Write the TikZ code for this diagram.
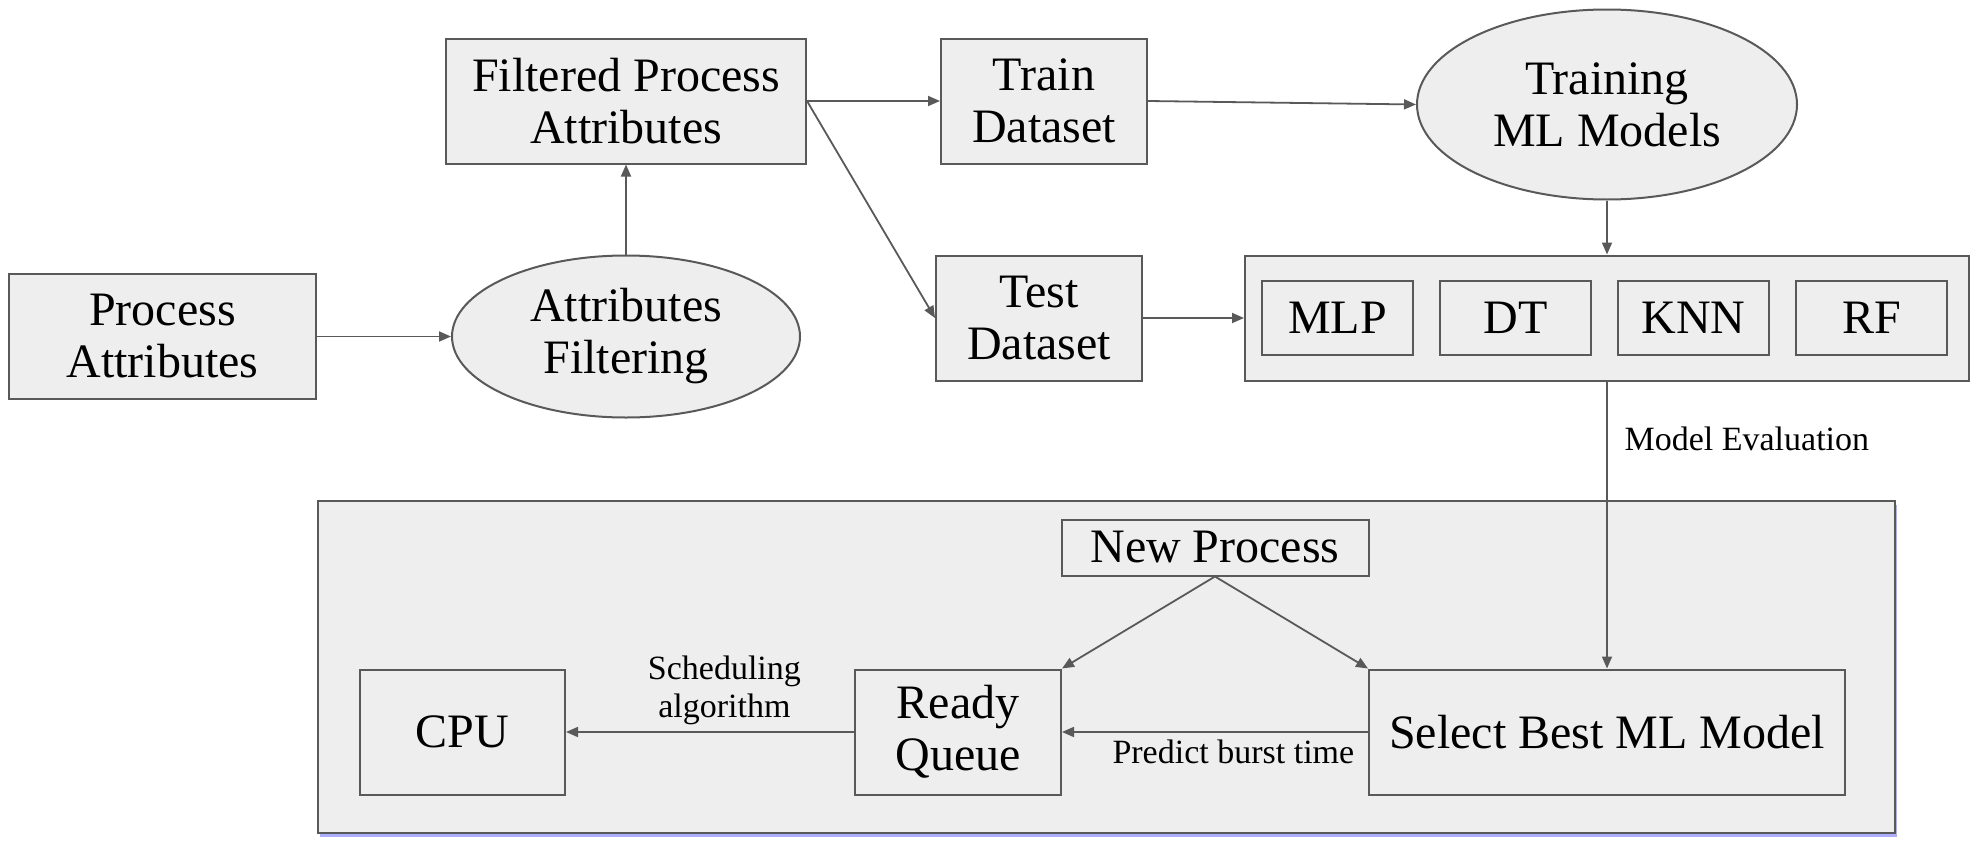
\documentclass[tikz,border=0pt]{standalone}
\usepackage{fontspec}
\setmainfont{Liberation Serif}
\usepackage{tikz}
\usetikzlibrary{shapes.geometric, arrows.meta, positioning, calc, shadows}
\definecolor{boxfill}{HTML}{EEEEEE}
\definecolor{boxline}{HTML}{595959}
\tikzstyle{rec} = [rectangle, minimum width=103pt, minimum height=62.5pt, inner sep=0pt, text centered, align=center, draw=boxline, fill=boxfill, line width=1pt, font=\fontsize{24}{26}\selectfont]
\tikzstyle{ell} = [ellipse, inner sep=0pt, text centered, align=center, draw=boxline, fill=boxfill, line width=1pt, font=\fontsize{24}{26}\selectfont]
\tikzstyle{panel} = [rectangle, draw=boxline, fill=boxfill, line width=1pt, drop shadow={shadow xshift=1pt, shadow yshift=-2pt, fill=blue!70, opacity=0.45}]
\tikzstyle{lbl} = [font=\fontsize{17}{19}\selectfont, align=center]
\tikzstyle{arrow} = [line width=0.9pt, draw=boxline, -{Triangle[length=6pt, width=5pt]}]

\begin{document}
\begin{tikzpicture}[node distance=45pt]
		\useasboundingbox (0,0) rectangle (990pt,-423pt);
		\node (sched) [panel, minimum width=788.5pt, minimum height=166pt] at (553.25pt,-333.5pt) {};
		\node (procattr) [rec, minimum width=153.5pt] at (81.25pt,-168.25pt) {Process\\Attributes};
		\node (filtering) [ell, minimum width=174pt, minimum height=81pt, right=67pt of procattr] {Attributes\\Filtering};
		\draw [arrow] (procattr) -- (filtering);
		\node (filtered) [rec, minimum width=180pt, above=45pt of filtering] {Filtered Process\\Attributes};
		\draw [arrow] (filtering) -- (filtered);
		\node (train) [rec, right=66.5pt of filtered] {Train\\Dataset};
		\draw [arrow] (filtered) -- (train);
		\node (test) [rec, below=45pt of train, xshift=-2.5pt] {Test\\Dataset};
		\draw [arrow] (filtered.east) -- (test.west);
		\node (training) [ell, minimum width=190pt, minimum height=95pt, right=134pt of train, yshift=-1.75pt] {Training\\ML Models};
		\draw [arrow] (train.east) -- (training.west);
		\node (models) [rec, minimum width=362pt, below=27pt of training] {};
		\draw [arrow] (training) -- (models);
		\draw [arrow] (test) -- (models);
		\node (mlp) [rec, minimum width=75.5pt, minimum height=37pt, right=8.5pt of models.west] {MLP};
		\node (dt) [rec, minimum width=75.5pt, minimum height=37pt, right=12.5pt of mlp] {DT};
		\node (knn) [rec, minimum width=75.5pt, minimum height=37pt, right=12.5pt of dt] {KNN};
		\node (rf) [rec, minimum width=75.5pt, minimum height=37pt, right=12.5pt of knn] {RF};
		\node (select) [rec, minimum width=238pt, below=143.5pt of models] {Select Best ML Model};
		\draw [arrow] (models) -- node [lbl, pos=0.2, right=5pt] {Model Evaluation} (select);
		\node (queue) [rec, left=153pt of select] {Ready\\Queue};
		\draw [arrow] (select) -- node [lbl, pos=0.44, below] {Predict burst time} (queue);
		\node (cpu) [rec, minimum width=102.5pt, left=144pt of queue] {CPU};
		\draw [arrow] (queue) -- node [lbl, pos=0.45, above] {Scheduling\\algorithm} (cpu);
		\node (newproc) [rec, minimum width=153.5pt, minimum height=28pt] at ($(queue.north east)!0.5!(select.north west)+(0,60.5pt)$) {New Process};
		\draw [arrow] (newproc.south) -- (queue.north east);
		\draw [arrow] (newproc.south) -- (select.north west);
\end{tikzpicture}
\end{document}
